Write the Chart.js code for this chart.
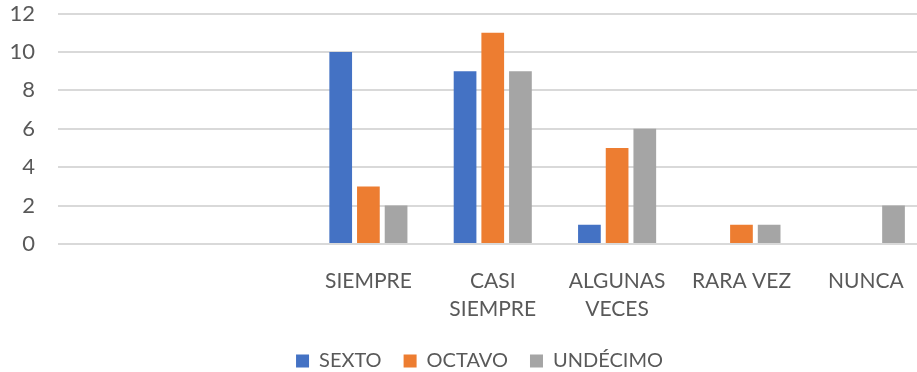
<!DOCTYPE html>
<html>
<head>
<meta charset="utf-8">
<script src="https://cdn.jsdelivr.net/npm/chart.js@4.4.1/dist/chart.umd.min.js"></script>
<style>
  html, body { margin: 0; padding: 0; overflow: hidden; background: #fff; }
  #wrap { width: 928px; height: 381px; }
</style>
</head>
<body>
<div id="wrap"><canvas id="chart"></canvas></div>
<script>
// --- data ---
const categories = ['', '', 'SIEMPRE', ['CASI', 'SIEMPRE'], ['ALGUNAS', 'VECES'], 'RARA VEZ', 'NUNCA'];
const seriesNames = ['SEXTO', 'OCTAVO', 'UNDÉCIMO'];
const sexto    = [null, null, 10, 9, 1, 0, 0];
const octavo   = [null, null, 3, 11, 5, 1, 0];
const undecimo = [null, null, 2, 9, 6, 1, 2];
const yTicks = [0, 2, 4, 6, 8, 10, 12];

const colors = ['#4472C4', '#ED7D31', '#A5A5A5'];
const textColor = '#595959';
const fontFamily = "Lato, 'DejaVu Sans Condensed', sans-serif";

const datasets = [sexto, octavo, undecimo].map((values, i) => ({
    label: seriesNames[i],
    data: values,
    backgroundColor: colors[i],
    borderWidth: 0,
    categoryPercentage: 0.668,
    barPercentage: 0.82
}));

// the legend sits a little right of the canvas centre, as in the original
const legendShift = {
    id: 'legendShift',
    afterLayout(chart) {
        chart.legend.left += 15.5;
        chart.legend.right += 15.5;
    }
};

new Chart(document.getElementById('chart'), {
    type: 'bar',
    data: { labels: categories, datasets: datasets },
    plugins: [legendShift],
    options: {
        responsive: true,
        maintainAspectRatio: false,
        animation: false,
        layout: { padding: { left: 0, right: 0, top: 13.5, bottom: 0 } },
        scales: {
            x: {
                grid: { display: false },
                border: { display: false },
                ticks: {
                    color: textColor,
                    font: { family: fontFamily, size: 21, lineHeight: '28px' },
                    padding: 15,
                    maxRotation: 0,
                    autoSkip: false
                },
                afterFit: scale => { scale.height = 85; }
            },
            y: {
                min: 0,
                max: 12,
                afterBuildTicks: scale => { scale.ticks = yTicks.map(v => ({ value: v })); },
                grid: { color: '#d9d9d9', lineWidth: 2, drawTicks: false },
                border: { display: false },
                ticks: {
                    color: textColor,
                    font: { family: fontFamily, size: 22 },
                    padding: 22.5
                },
                afterFit: scale => {
                    scale.width = 57.5;
                    scale.paddingTop = 12;
                    scale.paddingBottom = 12;
                }
            }
        },
        plugins: {
            legend: {
                position: 'bottom',
                labels: {
                    color: textColor,
                    font: { family: fontFamily, size: 20 },
                    boxWidth: 13,
                    boxHeight: 13,
                    padding: 22
                }
            },
            tooltip: { enabled: false }
        }
    }
});
</script>
</body>
</html>
